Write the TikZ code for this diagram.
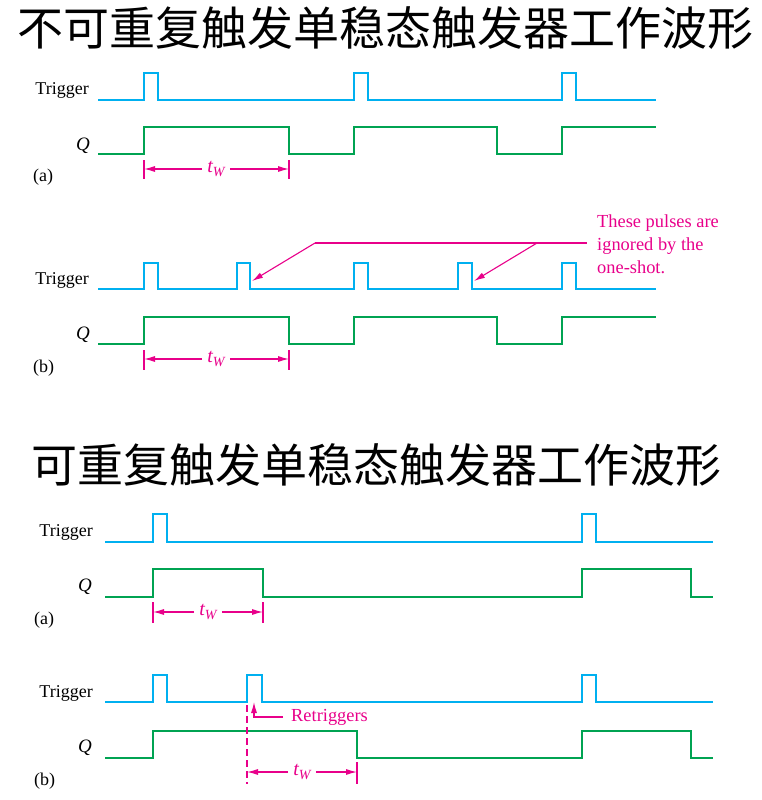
\documentclass[tikz,border=0pt]{standalone}
\usepackage{fontspec}
\setmainfont{Liberation Serif}
\newfontfamily\cjk{Noto Sans CJK SC}
\usetikzlibrary{arrows.meta}
\definecolor{trigcol}{RGB}{0,176,240}
\definecolor{qcol}{RGB}{0,163,82}
\definecolor{annot}{RGB}{232,0,138}
\newcommand{\tw}{{\fontsize{20}{20}\selectfont\itshape t}\raisebox{-0.4ex}{\fontsize{14}{14}\selectfont\itshape W}}
\begin{document}
\begin{tikzpicture}[x=1pt,y=-1pt,
  trig/.style={draw=trigcol,line width=2.4pt,line join=miter},
  qwave/.style={draw=qcol,line width=2.4pt,line join=miter},
  sig/.style={anchor=east,font=\fontsize{18}{18}\selectfont,inner sep=0pt},
  qlab/.style={anchor=east,font=\fontsize{19}{19}\selectfont\itshape,inner sep=0pt},
  part/.style={anchor=west,font=\fontsize{18}{18}\selectfont,inner sep=0pt},
  mag/.style={draw=annot,line width=1.1pt},
  magarrow/.style={draw=annot,line width=1.1pt,-{Latex[length=11pt,width=6pt]}},
  twlab/.style={text=annot,font=\fontsize{19}{19}\selectfont,inner xsep=5pt,inner ysep=3pt},
  title/.style={font=\cjk\fontsize{46}{46}\selectfont,inner sep=0pt}]
\useasboundingbox (0,0) rectangle (761,800);

% ---------- Title 1 ----------
\node[title] (title1) at (385,28) {不可重复触发单稳态触发器工作波形};

% ---------- Part 1 (a) ----------
\node[sig] (trig1a) at (89,90) {Trigger};
\node[qlab] (q1a) at (90,146) {Q};
\node[part] (pa1) at (33,177) {(a)};
\draw[trig] (98,100) -| (144,73) -| (158,100) -| (354,73) -| (368,100) -| (562,73) -| (576,100) -- (656,100);
\draw[qwave] (98,154) -| (144,127) -| (289,154) -| (354,127) -| (497,154) -| (562,127) -- (656,127);
\coordinate (a1l) at (144,169);
\coordinate (a1r) at (289,169);
\draw[mag] (144,160) -- (144,179);
\draw[mag] (289,160) -- (289,179);
\node[twlab] (tw1) at (216,169) {\tw};
\draw[magarrow] (tw1) -- (a1l);
\draw[magarrow] (tw1) -- (a1r);

% ---------- Part 1 (b) ----------
\node[sig] (trig1b) at (89,280) {Trigger};
\node[qlab] (q1b) at (90,335) {Q};
\node[part] (pb1) at (33,368) {(b)};
\draw[trig] (98,289) -| (144,263) -| (158,289) -| (237,263) -| (250,289) -| (354,263) -| (368,289) -| (458,263) -| (472,289) -| (562,263) -| (576,289) -- (656,289);
\draw[qwave] (98,344) -| (144,317) -| (289,344) -| (354,317) -| (497,344) -| (562,317) -- (656,317);
\coordinate (b1l) at (144,359);
\coordinate (b1r) at (289,359);
\draw[mag] (144,350) -- (144,370);
\draw[mag] (289,350) -- (289,370);
\node[twlab] (tw2) at (216,359) {\tw};
\draw[magarrow] (tw2) -- (b1l);
\draw[magarrow] (tw2) -- (b1r);

\node[anchor=north west,text=annot,align=left,inner sep=0pt,
      font=\fontsize{18.4}{23}\selectfont] (note) at (597,215)
  {These pulses are\\ignored by the\\one-shot.};
\coordinate (cl) at (315,243);
\coordinate (cm) at (537,243);
\coordinate (cr) at (587,243);
\coordinate (p1) at (252,281);
\coordinate (p2) at (474,281);
\draw[mag] (cl) -- (cr);
\draw[magarrow] (cl) -- (p1);
\draw[magarrow] (cm) -- (p2);

% ---------- Title 2 ----------
\node[title] (title2) at (376,465) {可重复触发单稳态触发器工作波形};

% ---------- Part 2 (a) ----------
\node[sig] (trig2a) at (93,532) {Trigger};
\node[qlab] (q2a) at (92,587) {Q};
\node[part] (pa2) at (34,620) {(a)};
\draw[trig] (105,542) -| (153,514) -| (167,542) -| (582,514) -| (596,542) -- (713,542);
\draw[qwave] (105,597) -| (153,569) -| (263,597) -| (582,569) -| (691,597) -- (713,597);
\coordinate (a2l) at (153,612);
\coordinate (a2r) at (263,612);
\draw[mag] (153,602) -- (153,623);
\draw[mag] (263,602) -- (263,623);
\node[twlab] (tw3) at (208,612) {\tw};
\draw[magarrow] (tw3) -- (a2l);
\draw[magarrow] (tw3) -- (a2r);

% ---------- Part 2 (b) ----------
\node[sig] (trig2b) at (93,693) {Trigger};
\node[qlab] (q2b) at (92,748) {Q};
\node[part] (pb2) at (34,781) {(b)};
\draw[trig] (105,702) -| (153,675) -| (167,702) -| (247,675) -| (262,702) -| (582,675) -| (596,702) -- (713,702);
\draw[qwave] (105,758) -| (153,731) -| (357,758) -| (582,731) -| (691,758) -- (713,758);
\draw[mag,dashed,dash pattern=on 7pt off 4pt] (247,705) -- (247,784);
\node[anchor=west,text=annot,inner sep=0pt,font=\fontsize{18.4}{18}\selectfont] (retrig) at (291,717) {Retriggers};
\coordinate (rc) at (254,717);
\coordinate (rt) at (254,702);
\draw[magarrow] (283,717) -- (rc) -- (rt);
\coordinate (b2l) at (247,772);
\coordinate (b2r) at (357,772);
\draw[mag] (357,762) -- (357,784);
\node[twlab] (tw4) at (302,772) {\tw};
\draw[magarrow] (tw4) -- (b2l);
\draw[magarrow] (tw4) -- (b2r);
\end{tikzpicture}
\end{document}
